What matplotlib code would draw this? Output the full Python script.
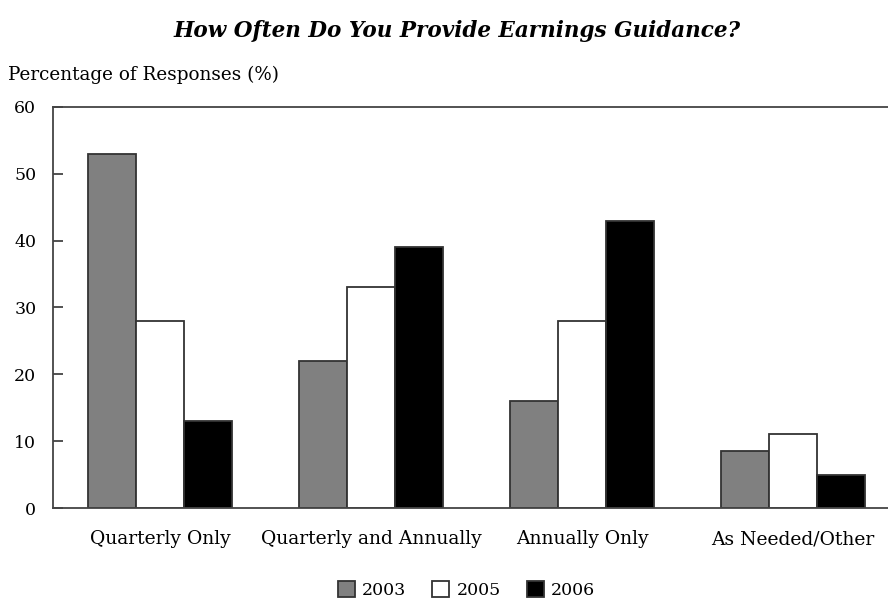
import numpy as np
import matplotlib
matplotlib.use('Agg')
import matplotlib.pyplot as plt

categories = ['Quarterly Only', 'Quarterly and Annually', 'Annually Only', 'As Needed/Other']
years = ['2003', '2005', '2006']
values_2003 = [53, 22, 16, 8.5]
values_2005 = [28, 33, 28, 11]
values_2006 = [13, 39, 43, 5]
colors = ['#808080', '#ffffff', '#000000']

plt.rcParams['font.family'] = ['DejaVu Serif']

fig = plt.figure(figsize=(8.88, 5.98), dpi=100)
ax = fig.add_axes([0.0597, 0.1505, 0.9403, 0.6706])

x = np.arange(len(categories))
width = 0.227
series = [values_2003, values_2005, values_2006]
for i, vals in enumerate(series):
    ax.bar(x + (i - 1) * width, vals, width, color=colors[i], edgecolor='#333333',
           linewidth=1.3, label=years[i], zorder=2)

ax.set_xlim(-0.507, 3.45)
ax.set_ylim(0, 60)
ax.set_yticks([0, 10, 20, 30, 40, 50, 60])
ax.set_xticks(x)
ax.set_xticklabels(categories)
ax.tick_params(axis='y', direction='in', length=7, width=1.3, color='#444444',
               labelsize=12.5, pad=12)
ax.tick_params(axis='x', length=0, labelsize=13.5, pad=16)
for s in ['left', 'bottom', 'top']:
    ax.spines[s].set_linewidth(1.3)
    ax.spines[s].set_color('#444444')
ax.spines['right'].set_visible(False)

fig.text(0.515, 0.948, 'How Often Do You Provide Earnings Guidance?', ha='center', va='center',
         fontsize=15.5, fontweight='bold', fontstyle='italic')
fig.text(0.009, 0.875, 'Percentage of Responses (%)', ha='left', va='center', fontsize=13.2)

ax.legend(loc='center', bbox_to_anchor=(0.495, -0.205), ncol=3, frameon=False, fontsize=12.5,
          handlelength=1.0, handleheight=1.0, handletextpad=0.4, columnspacing=1.5)

fig.savefig('out.png', dpi=100)
